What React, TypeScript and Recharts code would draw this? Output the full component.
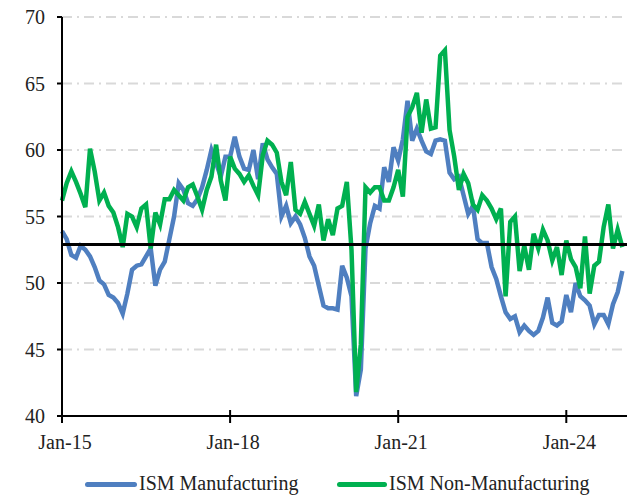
import React from 'react';
import {
  LineChart,
  Line,
  XAxis,
  YAxis,
  CartesianGrid,
  ReferenceLine,
  Legend
} from 'recharts';

// monthly readings, Jan-15 .. Jan-25
const manufacturing = [
  53.9, 53.3, 52.1, 51.9, 52.8, 52.5, 52.0, 51.2, 50.2, 49.9, 49.1, 48.9,
  48.5, 47.7, 49.2, 51.0, 51.3, 51.4, 52.0, 52.6, 49.8, 51.0, 51.6, 53.3,
  55.0, 57.5, 57.0, 56.0, 55.8, 56.3, 57.2, 58.5, 60.0, 59.0, 58.0, 59.5,
  59.5, 61.0, 59.5, 58.6, 58.5, 60.0, 57.8, 60.5, 59.3, 58.7, 58.2, 55.0,
  55.8, 54.5, 55.0, 54.4, 53.4, 52.0, 51.3, 49.8, 48.3, 48.1, 48.1, 48.0,
  51.3, 50.4, 49.0, 41.5, 43.5, 52.6, 54.5, 55.8, 55.6, 58.7, 57.6, 60.2,
  59.2, 60.8, 63.7, 60.7, 61.6, 60.7, 59.9, 59.7, 60.7, 60.8, 60.7, 58.3,
  57.8, 58.0, 56.6, 55.2, 55.8, 53.3, 53.0, 53.0, 51.2, 50.3, 49.0, 47.8,
  47.3, 47.5, 46.3, 46.8, 46.4, 46.1, 46.4, 47.4, 48.9, 47.0, 46.8, 47.1,
  49.1, 47.8, 50.0, 49.0, 48.7, 48.3, 46.9, 47.6, 47.6, 46.9, 48.4, 49.3,
  50.9
];

const nonManufacturing = [
  56.2, 57.5, 58.4, 57.6, 56.7, 55.7, 60.1, 58.4, 56.2, 56.8, 55.8, 55.3,
  54.2, 52.7, 55.2, 55.0, 54.2, 55.6, 55.9, 52.6, 55.3, 54.4, 56.3, 56.3,
  57.0, 56.6, 56.2, 57.2, 57.4, 56.5, 55.5, 57.0, 58.0, 60.4, 57.7, 56.2,
  59.5, 58.6, 58.2, 57.6, 58.1, 57.3, 56.6, 59.6, 60.7, 60.4, 59.8, 57.6,
  56.6, 59.1, 55.5, 55.2, 56.1, 55.2, 54.3, 55.9, 53.2, 54.8, 53.6, 55.6,
  55.8, 57.6, 52.5, 41.8, 45.4, 57.2, 56.8, 57.2, 57.2, 56.2, 56.2, 57.2,
  58.5, 56.5, 62.5, 63.2, 64.3, 61.3, 63.8, 61.6, 61.7, 67.1, 67.5, 61.5,
  59.5, 57.0, 58.2, 57.5, 55.9, 55.5, 56.6, 56.2, 55.6, 54.8, 55.6, 49.0,
  54.6, 55.0, 50.9, 52.8, 51.0, 53.7, 52.6, 54.0, 53.2, 51.7, 52.7, 50.6,
  53.2, 51.8, 51.2, 49.6, 53.5, 49.2, 51.3, 51.6, 54.2, 55.9, 52.6, 54.0,
  52.7
];

const tickMonths = [0, 36, 72, 108];
const tickLabels = ['Jan-15', 'Jan-18', 'Jan-21', 'Jan-24'];
const yTicks = [40, 45, 50, 55, 60, 65, 70];
const threshold = 52.9;

const data = manufacturing.map((v, i) => ({
  idx: i,
  manufacturing: v,
  nonManufacturing: nonManufacturing[i]
}));

const FONT = '"Liberation Serif", "Times New Roman", serif';
const BLUE = '#4f7fc0';
const GREEN = '#00b050';

const XTick = (props: any) => {
  const { x, y, payload } = props;
  const label = tickLabels[tickMonths.indexOf(payload.value)];
  return (
    <g>
      <line x1={x} x2={x} y1={y - 6} y2={y + 7} stroke="#000" strokeWidth={2} />
      <text x={x + 3} y={y + 33} textAnchor="middle" fill="#222" fontSize={20} fontFamily={FONT}>
        {label}
      </text>
    </g>
  );
};

const LegendBox = () => (
  <div style={{ position: 'relative', height: 29, fontFamily: FONT, fontSize: 20, color: '#222' }}>
    <div style={{ position: 'absolute', left: 85, top: 16, width: 52, height: 5, borderRadius: 3, background: BLUE }} />
    <span style={{ position: 'absolute', left: 139, top: 6, whiteSpace: 'nowrap' }}>ISM Manufacturing</span>
    <div style={{ position: 'absolute', left: 337, top: 16, width: 50, height: 5, borderRadius: 3, background: GREEN }} />
    <span style={{ position: 'absolute', left: 389, top: 6, whiteSpace: 'nowrap' }}>ISM Non-Manufacturing</span>
  </div>
);

export default function App() {
  return (
    <div style={{ position: 'absolute', left: 0, top: 0, background: '#fff' }}>
      <LineChart width={633} height={495} data={data} margin={{ top: 17, right: 6, bottom: 0, left: 0 }}>
        <CartesianGrid vertical={false} stroke="#d9d9d9" strokeWidth={2} strokeDasharray="10 5 2 5" />
        <XAxis
          dataKey="idx"
          type="number"
          domain={[0, 121]}
          ticks={tickMonths}
          interval={0}
          height={50}
          tickSize={0}
          tickMargin={0}
          tickLine={false}
          axisLine={{ stroke: '#000', strokeWidth: 2 }}
          tick={<XTick />}
        />
        <YAxis
          type="number"
          domain={[40, 70]}
          ticks={yTicks}
          interval={0}
          width={62}
          tickSize={5}
          tickMargin={12}
          axisLine={{ stroke: '#000', strokeWidth: 2 }}
          tickLine={{ stroke: '#000', strokeWidth: 2 }}
          tick={{ fill: '#222', fontSize: 20, fontFamily: FONT }}
        />
        <Line
          type="linear"
          dataKey="manufacturing"
          name="ISM Manufacturing"
          stroke={BLUE}
          strokeWidth={4.5}
          dot={false}
          isAnimationActive={false}
        />
        <Line
          type="linear"
          dataKey="nonManufacturing"
          name="ISM Non-Manufacturing"
          stroke={GREEN}
          strokeWidth={4.5}
          dot={false}
          isAnimationActive={false}
        />
        <ReferenceLine y={threshold} stroke="#000" strokeWidth={3} />
        <Legend verticalAlign="bottom" height={29} content={<LegendBox />} />
      </LineChart>
    </div>
  );
}
